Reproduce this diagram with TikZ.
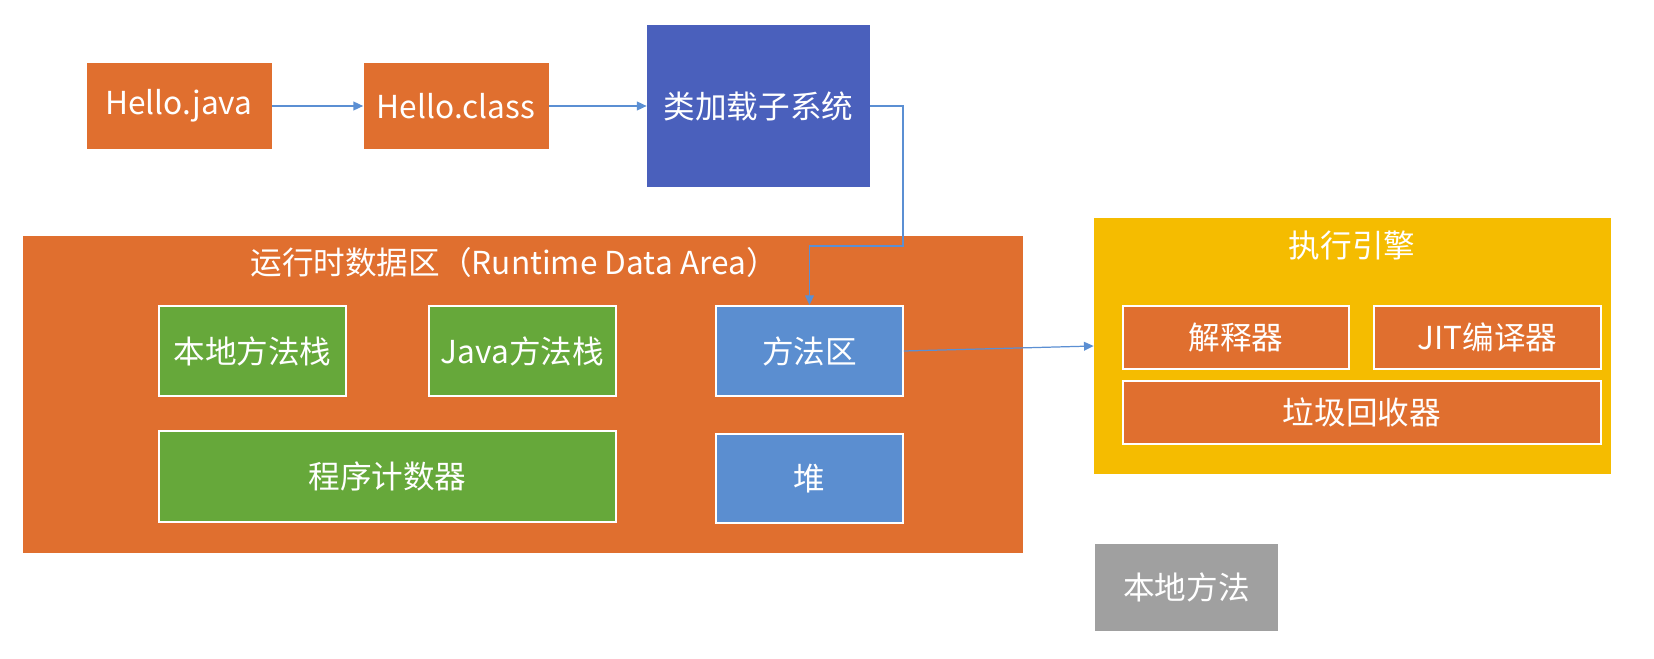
\documentclass[tikz,border=0pt]{standalone}
\usepackage{fontspec}
\newfontfamily\cjk{Noto Sans CJK SC}
\usetikzlibrary{arrows.meta}

\definecolor{jvmorange}{HTML}{E06F2F}
\definecolor{jvmblue}{HTML}{4A60BC}
\definecolor{jvmgreen}{HTML}{66A83A}
\definecolor{jvmsky}{HTML}{5B8ED0}
\definecolor{jvmyellow}{HTML}{F5BC00}
\definecolor{jvmgray}{HTML}{A0A0A0}
\definecolor{jvmarrow}{HTML}{5B8FD3}

\tikzset{
  wh/.style 2 args={minimum width=#1*0.02cm, minimum height=#2*0.02cm},
  blk/.style={inner sep=0pt, text=white, font=\cjk\fontsize{18}{22}\selectfont},
  part/.style={blk, draw=white, line width=1.1pt},
  flow/.style={draw=jvmarrow, line width=0.7pt, -{Triangle[length=5.5pt,width=5pt]}}
}

\begin{document}
\begin{tikzpicture}[x=0.02cm, y=-0.02cm]
  \useasboundingbox (0,0) rectangle (1654,659);

  % --- STEP 1: SOURCE AND CLASS LOADER ---
  \node[blk, fill=jvmorange, wh={185}{86}] (hjava) at (179,106) {Hello.java};
  \node[blk, fill=jvmorange, wh={185}{86}] (hclass) at (456,106) {Hello.class};
  \node[blk, fill=jvmblue, wh={223}{162}] (loader) at (758.5,106) {类加载子系统};

  \draw[flow] (hjava) -- (hclass);
  \draw[flow] (hclass) -- (loader);

  % --- STEP 2: RUNTIME DATA AREA ---
  \node[blk, fill=jvmorange, wh={1000}{317}] (rda) at (523,394.5) {};
  \node[blk] (rdatitle) at (514,262) {运行时数据区（Runtime Data Area）};

  \node[part, fill=jvmgreen, wh={187}{90}] (nstack) at (252.5,351) {本地方法栈};
  \node[part, fill=jvmgreen, wh={187}{90}] (jstack) at (522.5,351) {Java方法栈};
  \node[part, fill=jvmsky, wh={187}{90}] (marea) at (809.5,351) {方法区};
  \node[part, fill=jvmgreen, wh={457}{91}] (pc) at (387.5,476.5) {程序计数器};
  \node[part, fill=jvmsky, wh={187}{89}] (heap) at (809.5,478.5) {堆};

  % loader feeds the method area
  \draw[flow] (loader.east) -| (903,246) -| (marea.north);

  % --- STEP 3: EXECUTION ENGINE ---
  \node[blk, fill=jvmyellow, wh={517}{256}] (engine) at (1352.5,346) {};
  \node[blk] (enginetitle) at (1352,245) {执行引擎};

  \node[part, fill=jvmorange, wh={226}{63}] (interp) at (1236,337.5) {解释器};
  \node[part, fill=jvmorange, wh={227}{63}] (jit) at (1487.5,337.5) {JIT编译器};
  \node[part, fill=jvmorange, wh={478}{63}] (gc) at (1362,412.5) {垃圾回收器};

  \draw[flow] (marea.east) -- (engine.west);

  % --- STEP 4: NATIVE METHODS ---
  \node[blk, fill=jvmgray, wh={183}{87}] (native) at (1186.5,587.5) {本地方法};
\end{tikzpicture}
\end{document}
